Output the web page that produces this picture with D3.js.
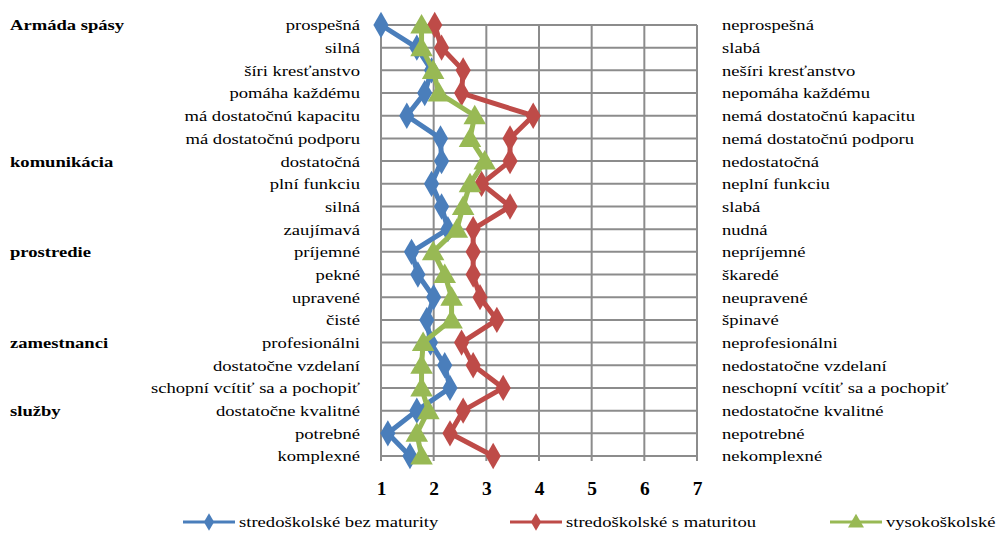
<!DOCTYPE html>
<html>
<head>
<meta charset="utf-8">
<script src="https://cdn.jsdelivr.net/npm/d3@7"></script>
<style>
  body { margin: 0; background: #fff; }
</style>
</head>
<body>
<div id="graph"></div>
<script>
// Left (positive) poles of each scale
var leftLabels = ["prospešná", "silná", "šíri kresťanstvo", "pomáha každému",
  "má dostatočnú kapacitu", "má dostatočnú podporu", "dostatočná", "plní funkciu",
  "silná", "zaujímavá", "príjemné", "pekné", "upravené", "čisté", "profesionálni",
  "dostatočne vzdelaní", "schopní vcítiť sa a pochopiť", "dostatočne kvalitné",
  "potrebné", "komplexné"];

// Right (negative) poles
var rightLabels = ["neprospešná", "slabá", "nešíri kresťanstvo", "nepomáha každému",
  "nemá dostatočnú kapacitu", "nemá dostatočnú podporu", "nedostatočná", "neplní funkciu",
  "slabá", "nudná", "nepríjemné", "škaredé", "neupravené", "špinavé", "neprofesionálni",
  "nedostatočne vzdelaní", "neschopní vcítiť sa a pochopiť", "nedostatočne kvalitné",
  "nepotrebné", "nekomplexné"];

// Group headers and the row they sit on
var groups = ["Armáda spásy", "komunikácia", "prostredie", "zamestnanci", "služby"];
var groupRows = [0, 6, 10, 14, 17];

var ticks = [1, 2, 3, 4, 5, 6, 7];

var seriesNames = ["stredoškolské bez maturity", "stredoškolské s maturitou", "vysokoškolské"];

var bezMaturity = [1.0, 1.68, 1.96, 1.83, 1.49, 2.13, 2.15, 1.96, 2.15, 2.27,
  1.58, 1.70, 2.0, 1.87, 1.94, 2.21, 2.31, 1.68, 1.13, 1.55];
var sMaturitou = [2.02, 2.15, 2.56, 2.53, 3.89, 3.45, 3.45, 2.91, 3.45, 2.75,
  2.75, 2.75, 2.88, 3.2, 2.53, 2.75, 3.32, 2.56, 2.31, 3.13];
var vysokoskolske = [1.77, 1.77, 1.99, 2.1, 2.78, 2.69, 2.97, 2.69, 2.56, 2.44,
  1.99, 2.21, 2.34, 2.34, 1.8, 1.77, 1.77, 1.9, 1.68, 1.77];

var width = 997, height = 534;
var FONT = "'Liberation Serif', 'Times New Roman', 'DejaVu Serif', serif";
var STRETCH = 1.2; // the original picture is stretched sideways

var rows = d3.range(leftLabels.length);

var xscale = d3.scaleLinear()
               .domain([1, 7])
               .range([381, 697]);

var yscale = d3.scalePoint()
               .domain(rows)
               .range([25, 456]);

var colors = ["#4a7ebb", "#be4b48", "#98b954"];
var symbols = [d3.symbolDiamond, d3.symbolDiamond, d3.symbolTriangle];
var symSizes = [200, 200, 220];

var chart = d3.select("#graph")
              .append("svg")
                .attr("width", width)
                .attr("height", height)
                .attr("font-family", FONT);

function place(x, y) {
  return "translate(" + x + "," + y + ") scale(" + STRETCH + ",1)";
}

// Grid: vertical lines at each tick value
chart.append("g")
     .selectAll("line")
     .data(ticks)
     .enter()
       .append("line")
       .attr("x1", function (d) { return xscale(d); })
       .attr("x2", function (d) { return xscale(d); })
       .attr("y1", yscale(0))
       .attr("y2", yscale(rows.length - 1) + 5)
       .attr("stroke", "#8c8c8c")
       .attr("stroke-width", 2);

// Grid: horizontal lines at each row
chart.append("g")
     .selectAll("line")
     .data(rows)
     .enter()
       .append("line")
       .attr("x1", xscale(1))
       .attr("x2", xscale(7))
       .attr("y1", function (d) { return yscale(d); })
       .attr("y2", function (d) { return yscale(d); })
       .attr("stroke", "#8c8c8c")
       .attr("stroke-width", 2);

// Bottom axis labels (bold numbers)
var x_axis = d3.axisBottom(xscale)
               .tickValues(ticks)
               .tickFormat(d3.format("d"))
               .tickSize(0)
               .tickPadding(0);

var axisG = chart.append("g")
                 .attr("transform", "translate(0, 482)")
                 .call(x_axis)
                 .attr("font-family", FONT);
axisG.select(".domain").remove();
axisG.selectAll("text")
     .style("font-family", FONT)
     .style("font-size", "18.5px")
     .style("font-weight", "bold")
     .attr("fill", "#000")
     .attr("y", 0)
     .attr("dy", "0.71em")
     .attr("transform", "scale(1.05,1)");

// Left labels
chart.append("g")
     .selectAll("text")
     .data(rows)
     .enter()
       .append("text")
       .attr("transform", function (d) { return place(360, yscale(d)); })
       .attr("dy", "0.35em")
       .attr("text-anchor", "end")
       .style("font-family", FONT)
       .style("font-size", "15.5px")
       .text(function (d) { return leftLabels[d]; });

// Right labels
chart.append("g")
     .selectAll("text")
     .data(rows)
     .enter()
       .append("text")
       .attr("transform", function (d) { return place(722, yscale(d)); })
       .attr("dy", "0.35em")
       .style("font-family", FONT)
       .style("font-size", "15.5px")
       .text(function (d) { return rightLabels[d]; });

// Group headers
chart.append("g")
     .selectAll("text")
     .data(groups)
     .enter()
       .append("text")
       .attr("transform", function (d, i) { return place(10, yscale(groupRows[i])); })
       .attr("dy", "0.35em")
       .style("font-family", FONT)
       .style("font-size", "15.5px")
       .style("font-weight", "bold")
       .text(function (d) { return d; });

// Series
var allSeries = [bezMaturity, sMaturitou, vysokoskolske];

var line = d3.line()
             .x(function (d) { return xscale(d); })
             .y(function (d, i) { return yscale(i); });

allSeries.forEach(function (values, s) {
  var g = chart.append("g");
  g.append("path")
   .datum(values)
   .attr("d", line)
   .attr("fill", "none")
   .attr("stroke", colors[s])
   .attr("stroke-width", 5)
   .attr("stroke-linejoin", "round");

  g.selectAll("path.marker")
   .data(values)
   .enter()
     .append("path")
     .attr("class", "marker")
     .attr("d", d3.symbol().type(symbols[s]).size(symSizes[s]))
     .attr("transform", function (d, i) {
       var dy = s === 2 ? 2 : 0;
       return "translate(" + xscale(d) + "," + (yscale(i) + dy) + ")";
     })
     .attr("fill", colors[s]);
});

// Legend
var legendX = [183, 510, 830];
var legend = chart.append("g");
seriesNames.forEach(function (name, s) {
  var lx = legendX[s], ly = 522;
  legend.append("line")
        .attr("x1", lx).attr("x2", lx + 52)
        .attr("y1", ly).attr("y2", ly)
        .attr("stroke", colors[s])
        .attr("stroke-width", 3);
  legend.append("path")
        .attr("d", d3.symbol().type(symbols[s]).size(s === 2 ? 110 : 90))
        .attr("transform", "translate(" + (lx + 26) + "," + (ly + (s === 2 ? 1 : 0)) + ")")
        .attr("fill", colors[s]);
  legend.append("text")
        .attr("transform", place(lx + 56, ly))
        .attr("dy", "0.35em")
        .style("font-family", FONT)
        .style("font-size", "15.5px")
        .text(name);
});
</script>
</body>
</html>
